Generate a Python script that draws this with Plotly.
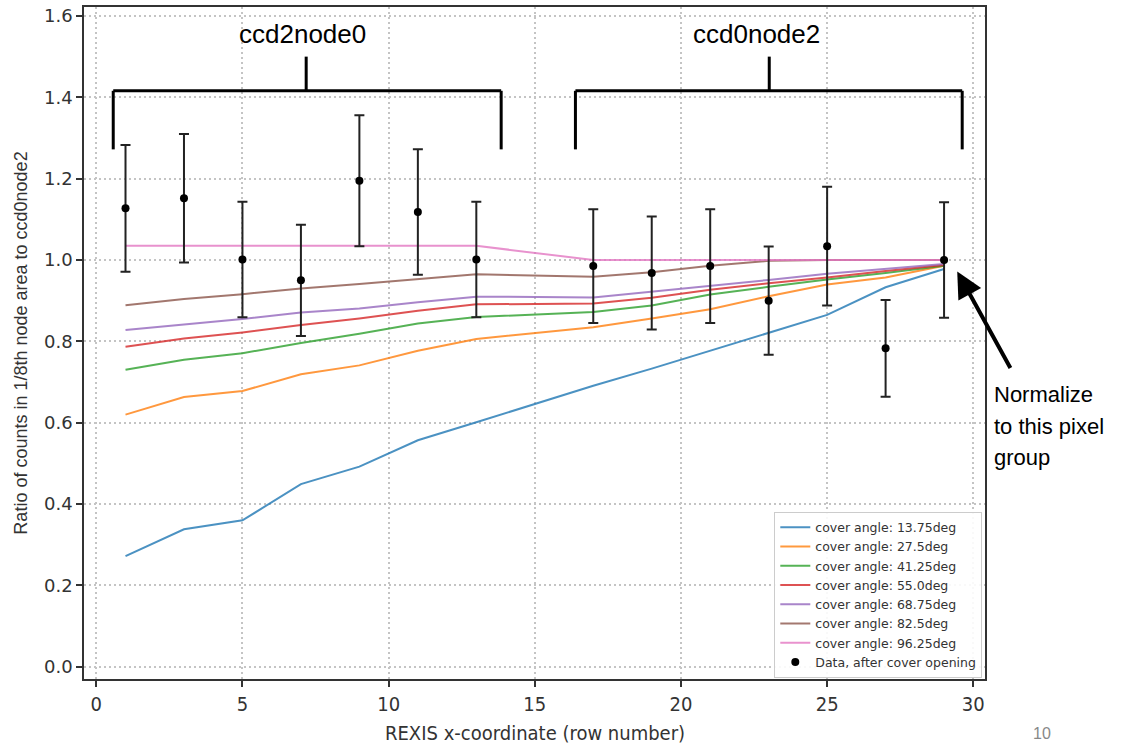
import plotly.graph_objects as go

# ---------------- data ----------------
rows = [1, 3, 5, 7, 9, 11, 13, 17, 19, 21, 23, 25, 27, 29]

angle_labels = ["cover angle: 13.75deg", "cover angle: 27.5deg", "cover angle: 41.25deg",
                "cover angle: 55.0deg", "cover angle: 68.75deg", "cover angle: 82.5deg",
                "cover angle: 96.25deg"]

ratio_13_75 = [0.272, 0.338, 0.360, 0.449, 0.492, 0.557, 0.601, 0.691, 0.733, 0.777, 0.821, 0.865, 0.933, 0.978]
ratio_27_5 = [0.620, 0.663, 0.678, 0.719, 0.741, 0.777, 0.806, 0.835, 0.856, 0.879, 0.911, 0.940, 0.957, 0.986]
ratio_41_25 = [0.730, 0.755, 0.771, 0.796, 0.819, 0.844, 0.860, 0.872, 0.888, 0.915, 0.934, 0.952, 0.968, 0.986]
ratio_55_0 = [0.787, 0.807, 0.822, 0.840, 0.856, 0.875, 0.891, 0.893, 0.907, 0.927, 0.943, 0.957, 0.973, 0.988]
ratio_68_75 = [0.828, 0.842, 0.855, 0.871, 0.881, 0.896, 0.910, 0.908, 0.922, 0.937, 0.951, 0.966, 0.978, 0.990]
ratio_82_5 = [0.889, 0.904, 0.916, 0.930, 0.941, 0.953, 0.965, 0.959, 0.970, 0.986, 0.998, 1.000, 1.000, 1.000]
ratio_96_25 = [1.035, 1.035, 1.035, 1.035, 1.035, 1.035, 1.035, 1.000, 1.000, 1.000, 1.000, 1.000, 1.000, 1.000]

data_ratio = [1.127, 1.152, 1.001, 0.950, 1.195, 1.118, 1.001, 0.985, 0.968, 0.985, 0.900, 1.034, 0.783, 1.000]
data_err = [0.156, 0.158, 0.142, 0.137, 0.161, 0.154, 0.142, 0.140, 0.139, 0.140, 0.133, 0.146, 0.119, 0.142]

x_ticks = [0, 5, 10, 15, 20, 25, 30]
y_ticks = [0.0, 0.2, 0.4, 0.6, 0.8, 1.0, 1.2, 1.4, 1.6]

colors = ["#1f77b4", "#ff7f0e", "#2ca02c", "#d62728", "#9467bd", "#8c564b", "#e377c2"]
series = [ratio_13_75, ratio_27_5, ratio_41_25, ratio_55_0, ratio_68_75, ratio_82_5, ratio_96_25]

# ---------------- figure ----------------
fig = go.Figure()
for lab, ys, c in zip(angle_labels, series, colors):
    fig.add_trace(go.Scatter(x=rows, y=ys, mode="lines", name=lab,
                             line=dict(color=c, width=2), opacity=0.8))

fig.add_trace(go.Scatter(
    x=rows, y=data_ratio, mode="markers", name="Data, after cover opening",
    marker=dict(color="black", size=8),
    error_y=dict(type="data", array=data_err, visible=True, color="#222222",
                 thickness=2, width=5),
))

# brackets
bk = dict(color="black", width=3)
shapes = []
for (x0, x1, xm) in [(0.58, 13.85, 7.18), (16.39, 29.62, 23.02)]:
    shapes += [
        dict(type="line", xref="x", yref="y", x0=x0, x1=x1, y0=1.416, y1=1.416, line=bk),
        dict(type="line", xref="x", yref="y", x0=x0, x1=x0, y0=1.416, y1=1.272, line=bk),
        dict(type="line", xref="x", yref="y", x0=x1, x1=x1, y0=1.416, y1=1.272, line=bk),
        dict(type="line", xref="x", yref="y", x0=xm, x1=xm, y0=1.416, y1=1.50, line=bk),
    ]

ann_font = dict(family="Liberation Sans, Arial, sans-serif", size=26, color="black")
annotations = [
    dict(x=7.05, y=1.555, xref="x", yref="y", text="ccd2node0", showarrow=False,
         font=ann_font, xanchor="center", yanchor="middle"),
    dict(x=22.6, y=1.555, xref="x", yref="y", text="ccd0node2", showarrow=False,
         font=ann_font, xanchor="center", yanchor="middle"),
    dict(x=29.45, y=0.972, xref="x", yref="y", text="", showarrow=True,
         ax=54, ay=98, arrowhead=2, arrowsize=1.3, arrowwidth=4, arrowcolor="black"),
]
side_font = dict(family="Liberation Sans, Arial, sans-serif", size=22, color="black")
for i, t in enumerate(["Normalize", "to this pixel", "group"]):
    annotations.append(dict(xref="paper", yref="paper", x=(992 - 84) / 901,
                            y=(679 - (395 + 31.5 * i)) / 672, text=t, showarrow=False,
                            font=side_font, xanchor="left", yanchor="middle"))
annotations.append(dict(xref="paper", yref="paper", x=(1042 - 84) / 901, y=(679 - 733) / 672,
                        text="10", showarrow=False,
                        font=dict(family="Liberation Sans, Arial, sans-serif", size=16, color="#888888"),
                        xanchor="center", yanchor="middle"))
# x-axis title placed as annotation to keep plot area fixed
annotations.append(dict(xref="paper", yref="paper", x=0.5, y=(679 - 733) / 672,
                        text="REXIS x-coordinate (row number)", showarrow=False,
                        font=dict(family="Liberation Sans Narrow, DejaVu Sans Condensed, sans-serif",
                                  size=20, color="#333333"),
                        xanchor="center", yanchor="middle"))

axis_common = dict(showline=True, linecolor="#333333", linewidth=1.5, mirror=True,
                   ticks="outside", ticklen=6, tickwidth=1.5, tickcolor="#333333",
                   showgrid=True, gridcolor="#c4c4c4", griddash="2px,3px", gridwidth=1.5,
                   zeroline=False, automargin=False)

fig.update_layout(
    width=1126, height=745,
    margin=dict(l=84, r=141, t=7, b=66),
    paper_bgcolor="white", plot_bgcolor="white",
    xaxis=dict(range=[-0.42, 30.4], tickvals=x_ticks, ticktext=[str(v) for v in x_ticks],
               tickfont=dict(family="Liberation Sans Narrow, DejaVu Sans Condensed, sans-serif", size=20, color="#333333"),
               **axis_common),
    yaxis=dict(range=[-0.03, 1.622], tickvals=y_ticks, ticktext=[f"{v:.1f}" for v in y_ticks],
               tickfont=dict(family="DejaVu Sans, sans-serif", size=18, color="#333333"),
               title=dict(text="Ratio of counts in 1/8th node area to ccd0node2",
                          font=dict(family="Liberation Sans, Arial, sans-serif", size=18, color="#333333"),
                          standoff=12),
               **axis_common),
    legend=dict(x=0.997, y=0.002, xanchor="right", yanchor="bottom",
                bgcolor="rgba(255,255,255,0.9)", bordercolor="#cccccc", borderwidth=1,
                font=dict(family="DejaVu Sans, sans-serif", size=12.5, color="#333333"),
                itemwidth=30, tracegroupgap=0),
    shapes=shapes, annotations=annotations, showlegend=True,
)

fig.write_html("out.html")
